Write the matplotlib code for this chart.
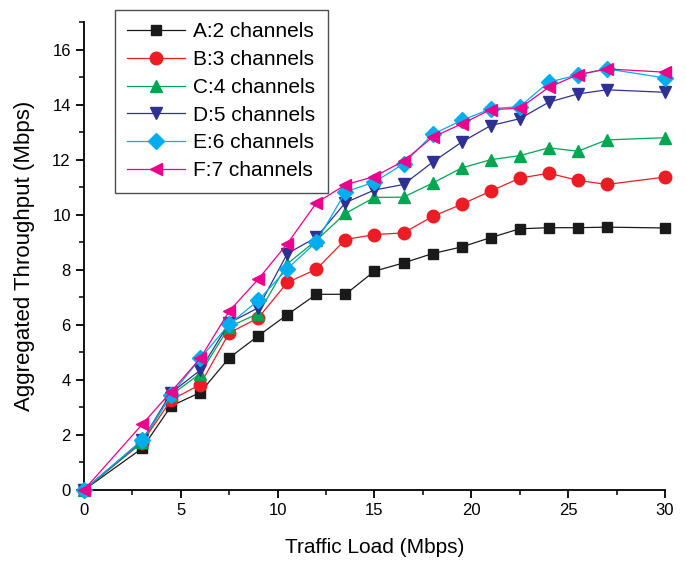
import matplotlib
matplotlib.use("Agg")
import matplotlib.pyplot as plt
from matplotlib.ticker import MultipleLocator

plt.rcParams['font.family'] = ['Liberation Sans', 'DejaVu Sans']

# traffic load (Mbps)
load = [0, 3, 4.5, 6, 7.5, 9, 10.5, 12, 13.5, 15, 16.5, 18, 19.5, 21, 22.5, 24, 25.5, 27, 30]

# aggregated throughput (Mbps)
ch2 = [0, 1.51, 3.05, 3.54, 4.80, 5.60, 6.37, 7.11, 7.11, 7.95, 8.25, 8.59, 8.83, 9.17, 9.49, 9.53, 9.53, 9.55, 9.52]
ch3 = [0, 1.72, 3.27, 3.83, 5.71, 6.25, 7.54, 8.02, 9.10, 9.28, 9.34, 9.94, 10.38, 10.86, 11.33, 11.51, 11.25, 11.10, 11.37]
ch4 = [0, 1.75, 3.45, 4.23, 5.93, 6.41, 8.22, 9.07, 10.05, 10.63, 10.64, 11.15, 11.70, 12.00, 12.15, 12.43, 12.31, 12.72, 12.80]
ch5 = [0, 1.80, 3.53, 4.35, 6.07, 6.62, 8.59, 9.18, 10.44, 10.90, 11.10, 11.91, 12.64, 13.24, 13.49, 14.09, 14.39, 14.54, 14.45]
ch6 = [0, 1.81, 3.45, 4.78, 6.02, 6.89, 8.04, 9.01, 10.83, 11.19, 11.85, 12.92, 13.43, 13.85, 13.93, 14.82, 15.08, 15.30, 14.97]
ch7 = [0, 2.38, 3.57, 4.78, 6.50, 7.66, 8.95, 10.43, 11.09, 11.39, 11.95, 12.82, 13.30, 13.82, 13.87, 14.63, 15.09, 15.30, 15.18]

labels = ['A:2 channels', 'B:3 channels', 'C:4 channels',
          'D:5 channels', 'E:6 channels', 'F:7 channels']
series = [ch2, ch3, ch4, ch5, ch6, ch7]
colors = ['#1a1a1a', '#ed1c24', '#00a651', '#2e3192', '#00aeef', '#ec008c']
markers = ['s', 'o', '^', 'v', 'D', '<']
msizes = [7.5, 9, 9, 9, 8, 9]

fig = plt.figure(figsize=(6.86, 5.61), dpi=100)
ax = fig.add_axes([0.1224, 0.1266, 0.847, 0.834])

for y, lab, c, m, ms in zip(series, labels, colors, markers, msizes):
    ax.plot(load, y, color=c, lw=0.9, marker=m, ms=ms, mec=c, mfc=c,
            label=lab, clip_on=False, zorder=3)

ax.set_xlim(0, 30)
ax.set_ylim(0, 17)
ax.xaxis.set_major_locator(MultipleLocator(5))
ax.xaxis.set_minor_locator(MultipleLocator(2.5))
ax.yaxis.set_major_locator(MultipleLocator(2))
ax.yaxis.set_minor_locator(MultipleLocator(1))

for s in ['top', 'right']:
    ax.spines[s].set_visible(False)
for s in ['left', 'bottom']:
    ax.spines[s].set_linewidth(1.3)

ax.tick_params(which='major', direction='out', length=6, width=1.3, labelsize=12)
ax.tick_params(which='minor', direction='out', length=3.5, width=1.1)

ax.set_xlabel('Traffic Load (Mbps)', fontsize=15, labelpad=14)
ax.set_ylabel('Aggregated Throughput (Mbps)', fontsize=16, labelpad=12)

leg = ax.legend(loc='upper left', bbox_to_anchor=(0.053, 1.026), fontsize=15,
                frameon=True, fancybox=False, handlelength=2.75,
                labelspacing=0.42, borderpad=0.6, handletextpad=0.4,
                borderaxespad=0)
leg.get_frame().set_edgecolor('#222222')
leg.get_frame().set_linewidth(1.0)

fig.savefig('out.png', dpi=100)
